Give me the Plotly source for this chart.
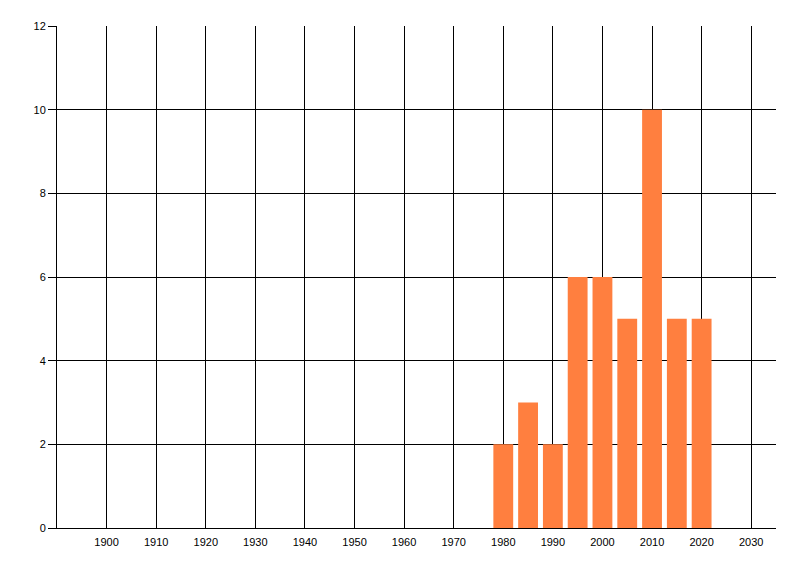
import plotly.graph_objects as go

# 数据
years = [1980, 1985, 1990, 1995, 2000, 2005, 2010, 2015, 2020]
counts = [2, 3, 2, 6, 6, 5, 10, 5, 5]
x_ticks = list(range(1900, 2031, 10))
y_ticks = list(range(0, 13, 2))

fig = go.Figure()

fig.add_trace(
    go.Bar(
        x=years,
        y=counts,
        width=4,
        marker=dict(color='#FF7F3F', line=dict(width=0)),
    )
)

# 页面 body 有 8px 外边距，这里把边距往回收
fig.update_layout(
    width=800,
    height=576,
    margin=dict(l=49, r=32, t=18, b=56, autoexpand=False),
    plot_bgcolor='white',
    paper_bgcolor='white',
    showlegend=False,
    font=dict(family='Liberation Sans', size=11, color='black'),
)

fig.update_xaxes(
    range=[1890, 2035],
    tickvals=x_ticks,
    ticks='',
    ticklabelstandoff=4,
    showgrid=True,
    gridcolor='black',
    gridwidth=1,
    showline=True,
    linecolor='black',
    linewidth=1,
    zeroline=False,
    automargin=False,
)

fig.update_yaxes(
    range=[0, 12],
    tickvals=y_ticks,
    ticks='outside',
    ticklen=8,
    tickcolor='black',
    showgrid=True,
    gridcolor='black',
    gridwidth=1,
    showline=True,
    linecolor='black',
    linewidth=1,
    zeroline=False,
    automargin=False,
)

fig.write_html("out.html")
